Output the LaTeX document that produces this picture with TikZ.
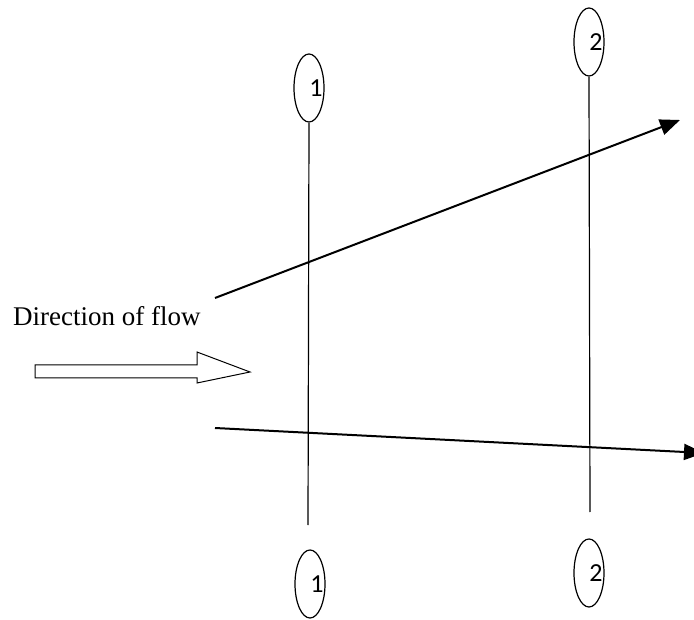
\documentclass[tikz,border=0pt]{standalone}
\usepackage{fontspec}
\setmainfont{Liberation Serif}
\newfontfamily\digitfont{Carlito}
\usetikzlibrary{arrows.meta,shapes.geometric}

\tikzset{
    sect/.style={draw, ellipse, line width=1.2pt, minimum width=30pt, minimum height=68pt, inner sep=0pt},
    num/.style={font=\digitfont\fontsize{26}{26}\selectfont, inner sep=0pt},
    flow/.style={line width=2pt, -{Triangle[length=20pt,width=16pt]}}
}

\begin{document}
\begin{tikzpicture}[x=1pt, y=-1pt]
    \useasboundingbox (0,0) rectangle (694,620);

    % ellipses at section 1
    \node[sect] (t1) at (309,88) {};
    \node[num] (n1) at ([xshift=7pt]t1.center) {1};
    \node[sect] (b1) at (310,584) {};
    \node[num] (m1) at ([xshift=7pt]b1.center) {1};

    % ellipses at section 2
    \node[sect] (t2) at (589,42) {};
    \node[num] (n2) at ([xshift=7pt]t2.center) {2};
    \node[sect] (b2) at (589,573) {};
    \node[num] (m2) at ([xshift=7pt]b2.center) {2};

    % vertical section lines
    \coordinate (e1) at (308,525);
    \coordinate (e2) at (590,512);
    \draw[line width=1.2pt] (t1.south) -- (e1);
    \draw[line width=1.2pt] (t2.south) -- (e2);

    % streamlines
    \coordinate (a1) at (215,298);
    \coordinate (a2) at (680,120);
    \coordinate (c1) at (215,428);
    \coordinate (c2) at (704,453);
    \draw[flow] (a1) -- (a2);
    \draw[flow] (c1) -- (c2);

    % direction of flow
    \node[anchor=base west, inner sep=0pt, font=\fontsize{27}{30}\selectfont] (lbl) at (13,326) {Direction of flow};
    \draw[line width=1pt] (35,365) -- (197,365) -- (197,352) -- (250,372) -- (197,383) -- (197,378) -- (35,378) -- cycle;
\end{tikzpicture}
\end{document}
